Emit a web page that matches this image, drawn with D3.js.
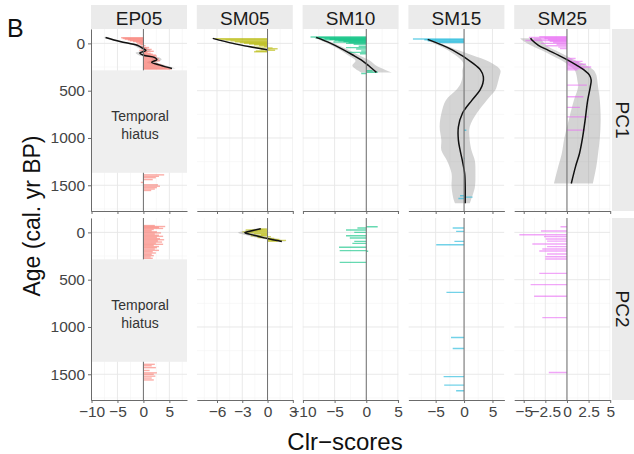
<!DOCTYPE html>
<html>
<head>
<meta charset="utf-8">
<script src="https://cdn.jsdelivr.net/npm/d3@7"></script>
<style>
  body { margin: 0; background: #fff; }
  text { font-family: "Liberation Sans", Arial, sans-serif; }
</style>
</head>
<body>
<svg id="chart" width="634" height="454"></svg>
<script>
// Facet layout: sites across, principal components down.
var sites = ['EP05', 'SM05', 'SM10', 'SM15', 'SM25'];
var components = ['PC1', 'PC2'];
var siteColors = ['#F8766D', '#B5B800', '#00BF7D', '#14B4D8', '#E76BF3'];
var xDomains = [[-10.1, 8.4], [-8.4, 3.0], [-10.05, 5.1], [-9.8, 7.1], [-6.1, 5.0]];
var xTicks = [[-10, -5, 0, 5], [-6, -3, 0, 3], [-10, -5, 0, 5], [-5, 0, 5], [-5, -2.5, 0, 2.5, 5]];
var ageDomain = [-152, 1772];
var ageTicks = [0, 500, 1000, 1500];
var hiatus = [285, 1368];

// bars: [age, clr score]; smooth: [age, fit, lower, upper]
var ep05Pc1Bars = [[-60,-4.3],[-52,-4.0],[-44,-3.6],[-36,-3.0],[-28,-2.6],[-20,-2.0],[-12,-1.4],[-4,-0.8],
  [5,-1.2],[14,-0.6],[24,0.4],[34,-0.5],[44,1.1],[54,0.6],[64,1.6],[74,-0.8],[84,2.0],[94,0.8],[104,1.4],
  [114,1.8],[124,2.4],[134,2.6],[144,2.2],[154,2.6],[164,3.0],[174,2.4],[184,3.2],[194,2.4],[204,1.6],
  [214,2.8],[224,3.4],[234,3.8],[244,4.2],[254,4.6],[264,5.0],[272,5.4],
  [1390,4.0],[1405,3.0],[1420,2.4],[1440,1.8],[1470,-0.5],[1495,2.8],[1510,3.2],[1525,2.6],[1540,2.2],[1555,1.5]];
var ep05Pc1Smooth = [[-63,-7.3,-7.8,-6.8],[-20,-4.5,-5.1,-3.9],[20,-1.2,-1.9,-0.5],[50,-0.2,-1.0,0.6],
  [75,0.5,-0.3,1.4],[100,-0.7,-1.5,0.2],[125,0.0,-0.9,0.9],[150,2.2,1.3,3.1],[172,2.6,1.7,3.5],
  [200,1.6,0.7,2.6],[230,3.2,2.3,4.2],[265,5.5,4.8,6.3]];
var sm05Pc1Bars = [[-50,-6.2],[-42,-5.6],[-34,-5.0],[-26,-4.4],[-18,-3.9],[-10,-3.3],[-2,-2.8],[6,-2.2],
  [14,-1.6],[22,-1.0],[30,-0.4],[40,-2.0],[48,0.6],[56,1.2],[64,-0.8],[72,0.9],[80,-1.4],[88,-1.6]];
var sm05Pc1Smooth = [[-53,-6.5,-6.8,-6.2],[0,-4.1,-4.5,-3.7],[40,-1.8,-2.3,-1.3],[68,0,-0.5,0.5]];
var sm10Pc1Bars = [[-68,-8.8],[-62,-7.5],[-56,-8.0],[-50,-6.6],[-44,-5.8],[-38,-7.0],[-32,-5.0],[-26,-4.4],
  [-20,-3.6],[-14,-5.2],[-8,-2.8],[0,-3.2],[10,-2.0],[30,-1.2],[45,-3.2],[60,-1.6],[80,-0.8],[95,-3.0],
  [110,-1.0],[290,1.0],[305,1.8],[318,-0.8]];
var sm10Pc1Smooth = [[-63,-7.9,-8.3,-7.5],[0,-5.6,-6.1,-5.0],[60,-3.8,-4.4,-3.1],[120,-2.2,-3.0,-1.3],
  [184,-0.6,-1.7,0.6],[237,0.4,-2.2,1.6],[307,1.6,-0.8,4.0]];
var sm15Pc1Bars = [[-46,-9.0],[-38,-7.0],[-28,-6.4],[-18,-5.2],[-10,-4.5],[918,0.4],[1217,0.1],
  [1610,-0.7],[1625,1.5],[1640,-1.0]];
var sm15Pc1Smooth = [[-42,-6.4,-6.9,-5.9],[71,-2.0,-2.9,-1.1],[212,1.6,-0.1,5.0],[283,2.9,-0.3,6.4],
  [353,3.4,-0.3,6.2],[424,3.3,-0.6,5.9],[494,2.8,-1.4,5.5],[600,1.4,-3.2,4.0],[741,-0.3,-4.0,2.2],
  [882,-1.0,-4.3,1.0],[1023,-1.0,-4.0,1.0],[1129,-0.7,-4.0,1.3],[1240,-0.3,-3.0,1.9],[1376,0.1,-2.2,2.0],
  [1520,0.2,-2.2,1.9],[1658,0.2,-1.8,1.2],[1690,0.2,-1.6,1.0]];
var sm25Pc1Bars = [[-70,-3.2],[-62,-4.4],[-54,-2.6],[-46,-3.8],[-38,-2.2],[-30,-4.8],[-22,-2.0],[-12,-1.6],
  [0,-3.0],[10,-1.2],[25,-2.4],[40,-1.0],[55,-0.8],[160,1.0],[175,0.6],[190,1.8],[205,1.4],[220,2.2],
  [235,1.6],[250,2.8],[265,2.0],[280,1.2],[441,2.3],[565,1.9],[677,1.5],[777,2.5],[917,2.1]];
var sm25Pc1Smooth = [[-55,-4.2,-5.4,-3.0],[-35,-4.05,-5.2,-2.9],[20,-3.3,-4.2,-2.4],[71,-2.2,-3.0,-1.4],
  [125,-1.0,-1.8,-0.2],[177,0.1,-0.7,0.9],[230,1.1,0.2,2.2],[283,2.0,0.9,3.1],[335,2.6,1.1,3.4],
  [388,2.8,1.2,3.5],[459,2.7,1.3,3.6],[600,2.4,0.8,3.8],[812,2.1,0.2,3.9],[1000,1.8,-0.3,3.8],
  [1164,1.45,-0.6,3.6],[1300,1.0,-1.0,3.4],[1481,0.5,-1.5,3.0]];

var ep05Pc2Bars = [[-72,2.2],[-62,4.2],[-52,3.0],[-42,3.8],[-30,2.0],[-18,1.6],[-6,2.6],[6,3.4],[18,2.2],
  [30,3.0],[42,3.8],[54,2.6],[66,3.2],[78,4.0],[90,2.8],[102,3.6],[114,2.4],[126,3.8],[138,2.0],[150,3.0],
  [162,2.6],[176,2.2],[190,3.0],[204,1.8],[218,2.4],[232,1.6],[246,2.0],[260,1.4],[274,1.8],
  [1395,2.2],[1410,1.6],[1430,2.4],[1460,1.2],[1485,2.6],[1500,2.0],[1520,2.3],[1540,1.6],[1560,2.0]];
var sm05Pc2Bars = [[-35,-1.0],[-25,-2.6],[-15,-2.0],[-5,-3.0],[5,-2.4],[15,-1.6],[25,-0.8],[35,-2.0],
  [45,0.4],[55,-1.2],[65,0.8],[75,1.4],[85,2.2],[95,1.2]];
var sm05Pc2Smooth = [[-38,-0.8,-1.5,-0.1],[-15,-2.0,-2.8,-1.1],[3,-2.7,-3.5,-1.8],[30,-1.6,-2.5,-0.7],
  [58,-0.4,-1.2,0.4],[80,0.8,0.1,1.6],[97,1.7,1.1,2.3]];
var sm10Pc2Bars = [[-60,1.8],[-46,-1.4],[-25,-3.2],[0,-1.9],[35,-3.2],[60,-2.6],[95,-1.9],[116,-2.2],
  [158,-4.3],[193,-4.2],[200,0.3],[317,-4.2]];
var sm15Pc2Bars = [[-46,-2.0],[-11,-1.4],[95,-1.7],[130,-4.9],[634,-3.1],[1112,-2.3],[1228,-2.0],
  [1525,-3.6],[1615,-3.5],[1675,-1.4]];
var sm25Pc2Bars = [[-60,-0.75],[-14,-3.0],[25,-5.5],[45,-2.65],[70,-2.45],[92,-2.3],[123,-4.0],[151,-2.3],
  [176,-2.85],[197,-3.2],[229,-2.3],[257,-2.5],[282,-2.5],[433,-3.2],[552,-4.2],[676,-3.8],[901,-2.85],
  [1482,-2.1]];

var barsByPanel = [
  [ep05Pc1Bars, sm05Pc1Bars, sm10Pc1Bars, sm15Pc1Bars, sm25Pc1Bars],
  [ep05Pc2Bars, sm05Pc2Bars, sm10Pc2Bars, sm15Pc2Bars, sm25Pc2Bars]
];
var smoothByPanel = [
  [ep05Pc1Smooth, sm05Pc1Smooth, sm10Pc1Smooth, sm15Pc1Smooth, sm25Pc1Smooth],
  [null, sm05Pc2Smooth, null, null, null]
];

var svg = d3.select('#chart');
var panelW = 96, panelH = 182, colStep = 105.8, left0 = 91;
var rowTops = [29, 218];
var stripTop = 5, stripH = 24, rightStripX = 612;

function fmt(v) { return v < 0 ? '\u2212' + Math.abs(v) : String(v); }

// header text
svg.append('text').attr('x', 7).attr('y', 37).attr('font-size', 25).attr('fill', '#111').text('B');
svg.append('text').attr('transform', 'translate(40,216) rotate(-90)')
  .attr('text-anchor', 'middle').attr('font-size', 23).attr('fill', '#111').text('Age (cal. yr BP)');
svg.append('text').attr('x', 345).attr('y', 450).attr('text-anchor', 'middle')
  .attr('font-size', 24).attr('fill', '#111').text('Clr\u2212scores');

sites.forEach(function (s, i) {
  var px = left0 + i * colStep;
  svg.append('rect').attr('x', px).attr('y', stripTop).attr('width', panelW).attr('height', stripH)
    .attr('fill', '#ebebeb');
  svg.append('text').attr('x', px + panelW / 2).attr('y', stripTop + 20).attr('text-anchor', 'middle')
    .attr('font-size', 19).attr('fill', '#1a1a1a').text(s);
});

components.forEach(function (c, r) {
  var top = rowTops[r];
  svg.append('rect').attr('x', rightStripX).attr('y', top).attr('width', 634 - rightStripX).attr('height', panelH)
    .attr('fill', '#ebebeb');
  svg.append('text').attr('transform', 'translate(' + (rightStripX + 11) + ',' + (top + panelH / 2) + ') rotate(90)')
    .attr('text-anchor', 'middle').attr('dy', '0.35em').attr('font-size', 19).attr('fill', '#1a1a1a').text(c);

  sites.forEach(function (s, i) {
    var px = left0 + i * colStep;
    var x = d3.scaleLinear().domain(xDomains[i]).range([px, px + panelW]);
    var y = d3.scaleLinear().domain(ageDomain).range([top, top + panelH]);
    var g = svg.append('g').attr('class', 'panel');
    var clipId = 'clip-' + r + '-' + i;
    svg.append('clipPath').attr('id', clipId).append('rect')
      .attr('x', px).attr('y', top).attr('width', panelW).attr('height', panelH);
    var inner = g.append('g').attr('clip-path', 'url(#' + clipId + ')');

    // grid: minor at half steps, major at ticks
    var tk = xTicks[i], step = tk[1] - tk[0];
    var xMinor = d3.range(tk[0] - step * 1.5, xDomains[i][1], step).filter(function (v) {
      return v > xDomains[i][0] && v < xDomains[i][1];
    });
    var yMinor = [-250, 250, 750, 1250, 1750];
    inner.selectAll('line.xminor').data(xMinor).join('line')
      .attr('x1', x).attr('x2', x).attr('y1', top).attr('y2', top + panelH)
      .attr('stroke', '#f3f3f3').attr('stroke-width', 0.6);
    inner.selectAll('line.yminor').data(yMinor).join('line')
      .attr('x1', px).attr('x2', px + panelW).attr('y1', y).attr('y2', y)
      .attr('stroke', '#f3f3f3').attr('stroke-width', 0.6);
    inner.selectAll('line.xmajor').data(tk).join('line')
      .attr('x1', x).attr('x2', x).attr('y1', top).attr('y2', top + panelH)
      .attr('stroke', '#e6e6e6').attr('stroke-width', 0.9);
    inner.selectAll('line.ymajor').data(ageTicks).join('line')
      .attr('x1', px).attr('x2', px + panelW).attr('y1', y).attr('y2', y)
      .attr('stroke', '#e6e6e6').attr('stroke-width', 0.9);

    var sm = smoothByPanel[r][i];
    if (sm) {
      inner.append('path').datum(sm)
        .attr('d', d3.area().curve(d3.curveCatmullRom)
          .y(function (d) { return y(d[0]); })
          .x0(function (d) { return x(d[2]); })
          .x1(function (d) { return x(d[3]); }))
        .attr('fill', '#999').attr('fill-opacity', 0.42);
    }

    inner.selectAll('line.bar').data(barsByPanel[r][i]).join('line')
      .attr('x1', x(0)).attr('x2', function (d) { return x(d[1]); })
      .attr('y1', function (d) { return y(d[0]); }).attr('y2', function (d) { return y(d[0]); })
      .attr('stroke', siteColors[i]).attr('stroke-opacity', 0.6).attr('stroke-width', 1.4);

    if (sm) {
      inner.append('path').datum(sm)
        .attr('d', d3.line().curve(d3.curveCatmullRom)
          .y(function (d) { return y(d[0]); })
          .x(function (d) { return x(d[1]); }))
        .attr('fill', 'none').attr('stroke', '#111').attr('stroke-width', 1.5);
    }

    inner.append('line').attr('x1', x(0)).attr('x2', x(0)).attr('y1', top).attr('y2', top + panelH)
      .attr('stroke', '#707070').attr('stroke-width', 1);

    if (s === 'EP05') {
      inner.append('rect').attr('x', px).attr('width', panelW)
        .attr('y', y(hiatus[0])).attr('height', y(hiatus[1]) - y(hiatus[0]))
        .attr('fill', '#efefef');
      var mid = y((hiatus[0] + hiatus[1]) / 2);
      inner.append('text').attr('x', px + panelW / 2 + 1).attr('y', mid - 1).attr('text-anchor', 'middle')
        .attr('font-size', 14).attr('fill', '#333').text('Temporal');
      inner.append('text').attr('x', px + panelW / 2 + 1).attr('y', mid + 17).attr('text-anchor', 'middle')
        .attr('font-size', 14).attr('fill', '#333').text('hiatus');
    }

    // axes
    var ax = g.append('g').attr('transform', 'translate(0,' + (top + panelH) + ')')
      .call(d3.axisBottom(x).tickValues(tk).tickSize(3).tickSizeOuter(0)
        .tickFormat(r === 1 ? fmt : function () { return ''; }));
    ax.select('.domain').attr('stroke', '#6b6b6b');
    ax.selectAll('.tick line').attr('stroke', '#6b6b6b');
    ax.selectAll('text').attr('font-size', 15.5).attr('fill', '#444')
      .attr('font-family', '"Liberation Sans", Arial, sans-serif');

    if (i === 0) {
      var ay = g.append('g').attr('transform', 'translate(' + px + ',0)')
        .call(d3.axisLeft(y).tickValues(ageTicks).tickSize(3).tickSizeOuter(0).tickFormat(d3.format('d')));
      ay.select('.domain').attr('stroke', '#6b6b6b');
      ay.selectAll('.tick line').attr('stroke', '#6b6b6b');
      ay.selectAll('text').attr('font-size', 15.5).attr('fill', '#444')
        .attr('font-family', '"Liberation Sans", Arial, sans-serif');
    }
  });
});
</script>
</body>
</html>
